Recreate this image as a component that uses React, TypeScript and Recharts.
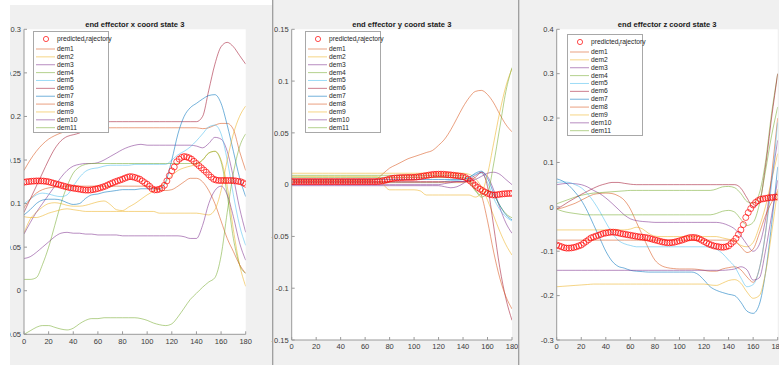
import { CartesianGrid, Line, LineChart, XAxis, YAxis } from "recharts";

// time samples (demos every 5, predicted trajectory every 2)
const T5 = [
  0, 5, 10, 15, 20, 25, 30, 35, 40, 45, 50, 55, 60, 65, 70, 75, 80, 85, 90, 95,
  100, 105, 110, 115, 120, 125, 130, 135, 140, 145, 150, 155, 160, 165, 170, 175, 180,
];
const T2 = [
  0, 2, 4, 6, 8, 10, 12, 14, 16, 18, 20, 22, 24, 26, 28, 30, 32, 34, 36, 38,
  40, 42, 44, 46, 48, 50, 52, 54, 56, 58, 60, 62, 64, 66, 68, 70, 72, 74, 76, 78,
  80, 82, 84, 86, 88, 90, 92, 94, 96, 98, 100, 102, 104, 106, 108, 110, 112, 114, 116, 118,
  120, 122, 124, 126, 128, 130, 132, 134, 136, 138, 140, 142, 144, 146, 148, 150, 152, 154, 156, 158,
  160, 162, 164, 166, 168, 170, 172, 174, 176, 178, 180,
];
const X_TICKS = [0, 20, 40, 60, 80, 100, 120, 140, 160, 180];

const DEM_NAMES = ["dem1", "dem2", "dem3", "dem4", "dem5", "dem6", "dem7", "dem8", "dem9", "dem10", "dem11"];
const DEM_COLORS = [
  "#D95319", "#EDB120", "#7E2F8E", "#77AC30", "#4DBEEE", "#A2142F",
  "#0072BD", "#D95319", "#EDB120", "#7E2F8E", "#77AC30",
];

// ---- x coord ----
const X_PRED = [
  0.1245, 0.125, 0.1253, 0.1256, 0.1258, 0.126, 0.126, 0.126, 0.1258, 0.1255,
  0.125, 0.1242, 0.1234, 0.1226, 0.1218, 0.121, 0.1202, 0.1194, 0.1187, 0.1181,
  0.1177, 0.1172, 0.1168, 0.1163, 0.1158, 0.1155, 0.1154, 0.1156, 0.116, 0.1166,
  0.1173, 0.1181, 0.119, 0.12, 0.1213, 0.1226, 0.1238, 0.125, 0.126, 0.127,
  0.128, 0.1292, 0.1303, 0.131, 0.1307, 0.13, 0.129, 0.128, 0.126, 0.124,
  0.1222, 0.1198, 0.117, 0.1157, 0.1158, 0.1165, 0.1178, 0.121, 0.126, 0.132,
  0.1375, 0.142, 0.148, 0.151, 0.153, 0.154, 0.1535, 0.1525, 0.151, 0.1485,
  0.146, 0.1435, 0.141, 0.1385, 0.136, 0.133, 0.1303, 0.128, 0.127, 0.1265,
  0.1265, 0.1265, 0.1265, 0.1265, 0.1265, 0.1263, 0.126, 0.1255, 0.125, 0.1238,
  0.1222,
];
const X_DEM1 = [
  0.138, 0.15, 0.16, 0.168, 0.174, 0.178, 0.181, 0.183, 0.185, 0.186,
  0.187, 0.187, 0.187, 0.187, 0.187, 0.187, 0.187, 0.187, 0.187, 0.187,
  0.187, 0.187, 0.187, 0.187, 0.187, 0.187, 0.187, 0.187, 0.187, 0.186,
  0.187, 0.19, 0.192, 0.192, 0.185, 0.16, 0.138,
];
const X_DEM2 = [
  0.066, 0.082, 0.09, 0.096, 0.1, 0.101, 0.1, 0.098, 0.097, 0.097,
  0.098, 0.1, 0.102, 0.103, 0.099, 0.093, 0.092, 0.096, 0.1, 0.105,
  0.11, 0.114, 0.118, 0.125, 0.132, 0.138, 0.141, 0.143, 0.145, 0.15,
  0.158, 0.16, 0.15, 0.12, 0.07, 0.03, 0.005,
];
const X_DEM3 = [
  0.065, 0.078, 0.09, 0.1, 0.11, 0.12, 0.13, 0.138, 0.143, 0.145,
  0.146, 0.146, 0.147, 0.15, 0.154, 0.158, 0.162, 0.165, 0.167, 0.168,
  0.167, 0.167, 0.167, 0.167, 0.167, 0.167, 0.167, 0.167, 0.166, 0.164,
  0.169, 0.176, 0.174, 0.16, 0.13, 0.095, 0.067,
];
const X_DEM4 = [
  0.013, 0.013, 0.015, 0.03, 0.05, 0.075, 0.1, 0.12, 0.135, 0.142,
  0.145, 0.146, 0.146, 0.146, 0.146, 0.146, 0.146, 0.146, 0.146, 0.146,
  0.146, 0.146, 0.146, 0.146, 0.146, 0.146, 0.146, 0.146, 0.146, 0.15,
  0.158, 0.16, 0.148, 0.11, 0.06, 0.03, 0.02,
];
const X_DEM5 = [
  0.1, 0.105, 0.11, 0.112, 0.111, 0.109, 0.108, 0.11, 0.12, 0.13,
  0.137, 0.14, 0.141, 0.143, 0.144, 0.144, 0.144, 0.144, 0.145, 0.145,
  0.145, 0.145, 0.145, 0.145, 0.15, 0.156, 0.16, 0.165, 0.172, 0.18,
  0.188, 0.19, 0.18, 0.15, 0.11, 0.075, 0.052,
];
const X_DEM6 = [
  0.09, 0.105, 0.12, 0.135, 0.15, 0.163, 0.172, 0.177, 0.179, 0.181,
  0.185, 0.19, 0.193, 0.194, 0.194, 0.194, 0.194, 0.194, 0.194, 0.194,
  0.194, 0.194, 0.194, 0.194, 0.194, 0.194, 0.194, 0.194, 0.194, 0.2,
  0.23, 0.26, 0.28, 0.285, 0.28, 0.27, 0.26,
];
const X_DEM7 = [
  0.087, 0.093, 0.1, 0.104, 0.105, 0.105, 0.104, 0.101, 0.099, 0.1,
  0.106, 0.11, 0.111, 0.113, 0.114, 0.115, 0.116, 0.116, 0.116, 0.117,
  0.117, 0.117, 0.117, 0.125, 0.15, 0.18, 0.2, 0.21, 0.215, 0.22,
  0.224, 0.225, 0.215, 0.19, 0.16, 0.13, 0.108,
];
const X_DEM8 = [
  0.095, 0.105, 0.112, 0.116, 0.118, 0.119, 0.12, 0.12, 0.12, 0.12,
  0.12, 0.12, 0.12, 0.12, 0.12, 0.12, 0.12, 0.12, 0.12, 0.12,
  0.12, 0.118, 0.116, 0.115, 0.116, 0.12, 0.125, 0.129, 0.129, 0.125,
  0.115, 0.1, 0.08, 0.06, 0.045, 0.03, 0.02,
];
const X_DEM9 = [
  0.085, 0.084, 0.084, 0.086, 0.089, 0.091, 0.093, 0.094, 0.093, 0.092,
  0.091, 0.091, 0.091, 0.091, 0.091, 0.091, 0.091, 0.091, 0.091, 0.091,
  0.091, 0.091, 0.089, 0.089, 0.089, 0.089, 0.089, 0.089, 0.089, 0.088,
  0.087, 0.093, 0.115, 0.15, 0.18, 0.2, 0.212,
];
const X_DEM10 = [
  0.037, 0.039, 0.044, 0.05, 0.056, 0.062, 0.066, 0.067, 0.066, 0.066,
  0.065, 0.065, 0.064, 0.064, 0.064, 0.064, 0.063, 0.063, 0.063, 0.063,
  0.063, 0.063, 0.063, 0.063, 0.063, 0.063, 0.062, 0.06, 0.06, 0.075,
  0.1, 0.115, 0.12, 0.11, 0.085, 0.055, 0.035,
];
const X_DEM11 = [
  -0.05, -0.046, -0.042, -0.04, -0.04, -0.042, -0.044, -0.045, -0.043, -0.038,
  -0.034, -0.032, -0.032, -0.031, -0.031, -0.031, -0.031, -0.031, -0.031, -0.032,
  -0.034, -0.037, -0.039, -0.04, -0.038, -0.03, -0.02, -0.01, -0.003, 0.004,
  0.01, 0.015, 0.04, 0.09, 0.135, 0.165, 0.18,
];

// ---- y coord ----
const Y_PRED = [
  0.003, 0.003, 0.003, 0.003, 0.003, 0.003, 0.003, 0.003, 0.003, 0.003,
  0.003, 0.003, 0.003, 0.003, 0.003, 0.003, 0.003, 0.003, 0.003, 0.003,
  0.003, 0.003, 0.003, 0.003, 0.003, 0.003, 0.003, 0.003, 0.003, 0.003,
  0.003, 0.003, 0.003, 0.003, 0.003, 0.003, 0.0032, 0.0036, 0.004, 0.0047,
  0.0055, 0.006, 0.0063, 0.0065, 0.0067, 0.0068, 0.0069, 0.007, 0.007, 0.007,
  0.0071, 0.0073, 0.0076, 0.008, 0.0084, 0.0088, 0.0092, 0.0096, 0.0099, 0.01,
  0.0101, 0.0101, 0.01, 0.0098, 0.0096, 0.0094, 0.0091, 0.0088, 0.0085, 0.0081,
  0.0077, 0.0068, 0.0053, 0.0034, 0.0013, -0.0008, -0.0027, -0.0044, -0.0058, -0.0072,
  -0.0084, -0.0093, -0.0099, -0.01, -0.0097, -0.0093, -0.009, -0.0088, -0.0086, -0.0085,
  -0.0084,
];
const Y_DEM1 = [
  0.004, 0.004, 0.004, 0.004, 0.004, 0.004, 0.004, 0.004, 0.004, 0.004,
  0.004, 0.004, 0.004, 0.004, 0.006, 0.011, 0.016, 0.019, 0.022, 0.025,
  0.027, 0.029, 0.031, 0.033, 0.038, 0.044, 0.053, 0.064, 0.075, 0.084,
  0.09, 0.091, 0.087, 0.079, 0.068, 0.058, 0.051,
];
const Y_DEM2 = [
  0.011, 0.011, 0.011, 0.011, 0.011, 0.011, 0.011, 0.011, 0.011, 0.011,
  0.011, 0.011, 0.011, 0.011, 0.011, 0.011, 0.011, 0.011, 0.011, 0.011,
  0.011, 0.011, 0.011, 0.011, 0.011, 0.011, 0.011, 0.011, 0.011, 0.01,
  0.006, -0.002, -0.015, -0.03, -0.045, -0.058, -0.068,
];
const Y_DEM3 = [
  -0.001, -0.001, -0.001, -0.001, -0.001, -0.001, -0.001, -0.001, -0.001, -0.001,
  -0.001, -0.001, -0.001, -0.001, -0.001, -0.001, -0.001, -0.001, -0.001, -0.001,
  -0.001, -0.001, -0.001, -0.001, -0.001, -0.002, -0.003, -0.002, 0.001, 0.005,
  0.009, 0.012, 0.008, -0.005, -0.022, -0.037, -0.047,
];
const Y_DEM4 = [
  0.007, 0.007, 0.007, 0.007, 0.007, 0.007, 0.007, 0.007, 0.007, 0.007,
  0.007, 0.007, 0.007, 0.007, 0.007, 0.007, 0.007, 0.007, 0.007, 0.007,
  0.007, 0.007, 0.007, 0.007, 0.007, 0.007, 0.007, 0.007, 0.007, 0.003,
  -0.006, -0.01, -0.006, -0.01, -0.02, -0.028, -0.032,
];
const Y_DEM5 = [
  0.002, 0.002, 0.002, 0.002, 0.002, 0.002, 0.002, 0.002, 0.002, 0.002,
  0.002, 0.002, 0.002, 0.002, 0.002, 0.002, 0.002, 0.002, 0.002, 0.002,
  0.002, 0.002, 0.002, 0.002, 0.002, 0.003, 0.004, 0.004, 0.005, 0.007,
  0.01, 0.011, 0.002, -0.013, -0.024, -0.031, -0.035,
];
const Y_DEM6 = [
  0.003, 0.003, 0.003, 0.003, 0.003, 0.003, 0.003, 0.003, 0.003, 0.003,
  0.003, 0.003, 0.003, 0.003, 0.003, 0.003, 0.003, 0.003, 0.003, 0.003,
  0.003, 0.003, 0.003, 0.003, 0.003, 0.003, 0.003, 0.003, 0.003, 0.004,
  0.007, 0.012, -0.002, -0.04, -0.08, -0.11, -0.131,
];
const Y_DEM7 = [
  0.005, 0.005, 0.005, 0.005, 0.005, 0.005, 0.005, 0.005, 0.005, 0.005,
  0.005, 0.005, 0.005, 0.005, 0.005, 0.005, 0.005, 0.005, 0.005, 0.005,
  0.005, 0.005, 0.005, 0.005, 0.005, 0.005, 0.005, 0.005, 0.005, 0.007,
  0.011, 0.013, 0.006, -0.008, -0.02, -0.029, -0.034,
];
const Y_DEM8 = [
  0.002, 0.002, 0.002, 0.002, 0.002, 0.002, 0.002, 0.002, 0.002, 0.002,
  0.002, 0.002, 0.002, 0.002, 0.002, 0.002, 0.002, 0.002, 0.002, 0.002,
  0.002, 0.002, 0.002, 0.002, 0.002, 0.002, 0.002, 0.002, 0.002, 0.003,
  0.001, -0.01, -0.035, -0.065, -0.09, -0.108, -0.12,
];
const Y_DEM9 = [
  0.008, 0.008, 0.008, 0.008, 0.008, 0.008, 0.008, 0.008, 0.008, 0.008,
  0.008, 0.008, 0.008, 0.008, 0.008, 0.0, -0.005, -0.005, -0.005, -0.005,
  -0.005, -0.006, -0.01, -0.01, -0.01, -0.01, -0.01, -0.01, -0.01, -0.01,
  -0.012, -0.008, 0.01, 0.04, 0.07, 0.095, 0.112,
];
const Y_DEM10 = [
  0, 0, 0, 0, 0, 0, 0, 0, 0, 0,
  0, 0, 0, 0, 0, 0, 0, 0, 0, 0,
  0, 0, 0, 0, 0, 0.001, 0.002, 0.003, 0.003, 0.004,
  0.005, 0.008, 0.011, 0.012, 0.01, 0.005, 0,
];
const Y_DEM11 = [
  0.009, 0.009, 0.009, 0.009, 0.009, 0.009, 0.009, 0.009, 0.009, 0.009,
  0.009, 0.009, 0.009, 0.009, 0.009, 0.009, 0.009, 0.009, 0.009, 0.009,
  0.009, 0.009, 0.009, 0.009, 0.009, 0.009, 0.009, 0.009, 0.009, 0.005,
  -0.005, -0.012, -0.008, 0.02, 0.055, 0.09, 0.113,
];

// ---- z coord ----
const Z_PRED = [
  -0.086, -0.088, -0.09, -0.092, -0.093, -0.093, -0.0925, -0.0915, -0.09, -0.088,
  -0.086, -0.082, -0.078, -0.074, -0.07, -0.068, -0.066, -0.064, -0.062, -0.06,
  -0.059, -0.058, -0.057, -0.057, -0.0575, -0.0585, -0.06, -0.061, -0.062, -0.063,
  -0.064, -0.065, -0.066, -0.067, -0.0678, -0.0685, -0.069, -0.07, -0.0715, -0.073,
  -0.0745, -0.076, -0.0775, -0.079, -0.08, -0.081, -0.081, -0.0805, -0.0795, -0.078,
  -0.0765, -0.075, -0.073, -0.071, -0.0695, -0.069, -0.069, -0.07, -0.072, -0.075,
  -0.078, -0.081, -0.084, -0.086, -0.088, -0.089, -0.09, -0.091, -0.091, -0.09,
  -0.088, -0.083, -0.078, -0.071, -0.062, -0.052, -0.04, -0.024, -0.013, -0.004,
  0.004, 0.01, 0.014, 0.017, 0.018, 0.019, 0.02, 0.021, 0.021, 0.022,
  0.022,
];
const Z_DEM1 = [
  -0.005, -0.002, 0.003, 0.008, 0.015, 0.022, 0.028, 0.03, 0.031, 0.03,
  0.025, 0.015, -0.005, -0.035, -0.065, -0.095, -0.12, -0.132, -0.137, -0.139,
  -0.14, -0.14, -0.14, -0.141, -0.143, -0.145, -0.145, -0.14, -0.137, -0.135,
  -0.142, -0.158, -0.17, -0.14, -0.06, 0.07, 0.2,
];
const Z_DEM2 = [
  -0.052, -0.052, -0.052, -0.052, -0.052, -0.052, -0.052, -0.052, -0.052, -0.052,
  -0.052, -0.052, -0.05, -0.046, -0.05, -0.06, -0.066, -0.067, -0.067, -0.067,
  -0.067, -0.067, -0.067, -0.067, -0.067, -0.067, -0.067, -0.07, -0.073, -0.076,
  -0.087, -0.09, -0.08, -0.045, 0, 0.06, 0.12,
];
const Z_DEM3 = [
  0.05, 0.052, 0.053, 0.052, 0.05, 0.045, 0.037, 0.03, 0.02, 0.008,
  -0.005, -0.018, -0.027, -0.031, -0.033, -0.034, -0.035, -0.035, -0.035, -0.035,
  -0.035, -0.035, -0.035, -0.035, -0.035, -0.035, -0.035, -0.037, -0.042, -0.05,
  -0.065, -0.085, -0.1, -0.085, -0.03, 0.06, 0.15,
];
const Z_DEM4 = [
  0.007, 0.012, 0.017, 0.022, 0.026, 0.029, 0.031, 0.032, 0.033, 0.034,
  0.035, 0.036, 0.037, 0.037, 0.037, 0.037, 0.037, 0.037, 0.037, 0.037,
  0.037, 0.037, 0.037, 0.037, 0.037, 0.037, 0.04, 0.045, 0.046, 0.043,
  0.03, 0.012, 0.008, 0.03, 0.1, 0.21, 0.3,
];
const Z_DEM5 = [
  0.055, 0.056, 0.055, 0.05, 0.043, 0.03, 0.012, -0.01, -0.035, -0.058,
  -0.075, -0.083, -0.087, -0.09, -0.09, -0.09, -0.09, -0.09, -0.09, -0.09,
  -0.09, -0.09, -0.09, -0.09, -0.09, -0.09, -0.095, -0.105, -0.12, -0.135,
  -0.16, -0.18, -0.175, -0.14, -0.06, 0.05, 0.19,
];
const Z_DEM6 = [
  -0.005, 0.003, 0.012, 0.02, 0.028, 0.035, 0.042, 0.048, 0.052, 0.055,
  0.055, 0.053, 0.051, 0.05, 0.05, 0.05, 0.05, 0.05, 0.05, 0.05,
  0.05, 0.05, 0.05, 0.05, 0.05, 0.05, 0.05, 0.05, 0.05, 0.05,
  0.042, 0.02, 0, 0.01, 0.09, 0.2, 0.3,
];
const Z_DEM7 = [
  0.063, 0.058, 0.048, 0.033, 0.015, -0.01, -0.04, -0.07, -0.1, -0.122,
  -0.134, -0.138, -0.143, -0.145, -0.146, -0.147, -0.147, -0.147, -0.147, -0.147,
  -0.147, -0.147, -0.147, -0.152, -0.165, -0.18, -0.188, -0.193, -0.197, -0.2,
  -0.215, -0.235, -0.24, -0.22, -0.15, -0.04, 0.09,
];
const Z_DEM8 = [
  -0.075, -0.075, -0.075, -0.075, -0.075, -0.075, -0.075, -0.075, -0.075, -0.075,
  -0.075, -0.075, -0.075, -0.075, -0.075, -0.075, -0.075, -0.075, -0.075, -0.075,
  -0.075, -0.075, -0.075, -0.075, -0.075, -0.075, -0.075, -0.075, -0.075, -0.078,
  -0.09, -0.103, -0.095, -0.06, -0.02, 0.01, 0.035,
];
const Z_DEM9 = [
  -0.18, -0.179, -0.178, -0.177, -0.176, -0.175, -0.174, -0.174, -0.174, -0.174,
  -0.174, -0.174, -0.174, -0.174, -0.174, -0.174, -0.174, -0.174, -0.174, -0.174,
  -0.174, -0.174, -0.174, -0.174, -0.174, -0.176, -0.177, -0.172, -0.166, -0.164,
  -0.172, -0.192, -0.206, -0.2, -0.15, -0.06, 0.04,
];
const Z_DEM10 = [
  -0.143, -0.143, -0.143, -0.143, -0.143, -0.143, -0.143, -0.143, -0.143, -0.143,
  -0.143, -0.143, -0.143, -0.143, -0.143, -0.143, -0.143, -0.143, -0.143, -0.143,
  -0.143, -0.143, -0.143, -0.143, -0.143, -0.143, -0.143, -0.143, -0.142, -0.14,
  -0.135, -0.142, -0.165, -0.16, -0.1, -0.02, 0.06,
];
const Z_DEM11 = [
  -0.005, -0.01, -0.013, -0.015, -0.017, -0.018, -0.018, -0.018, -0.018, -0.018,
  -0.018, -0.018, -0.018, -0.018, -0.018, -0.018, -0.018, -0.018, -0.018, -0.018,
  -0.018, -0.018, -0.018, -0.018, -0.018, -0.018, -0.015, -0.01, -0.008, -0.012,
  -0.028, -0.042, -0.035, 0.005, 0.08, 0.16, 0.225,
];

const FONT = "'Liberation Sans', Arial, Helvetica, sans-serif";
const CHART_W = 790;
const CHART_H = 365;
const Y_AXIS_W = 30;
const X_AXIS_H = 20;

function demoRows(series: number[][]) {
  return T5.map((t, i) => {
    const row: Record<string, number> = { t };
    series.forEach((s, k) => {
      row[DEM_NAMES[k]] = s[i];
    });
    return row;
  });
}

function predRows(values: number[]) {
  return T2.map((t, i) => ({ t, pred: values[i] }));
}

interface PanelProps {
  title: string;
  plotLeft: number;
  plotRight: number;
  plotTop: number;
  plotBottom: number;
  yDomain: [number, number];
  yTicks: number[];
  demos: number[][];
  pred: number[];
  legendLeft: number;
  legendTop: number;
}

function Legend({ left, top }: { left: number; top: number }) {
  return (
    <div
      style={{
        position: "absolute",
        left,
        top,
        width: 76,
        height: 102,
        boxSizing: "border-box",
        border: "1px solid #a8a8a8",
        background: "#fff",
        fontFamily: FONT,
        fontSize: 6.7,
        color: "#262626",
      }}
    >
      <svg width={76} height={102} style={{ position: "absolute", left: -1, top: -1 }}>
        <circle cx={13} cy={8} r={2.6} fill="none" stroke="#ff0000" strokeWidth={0.7} />
        {DEM_NAMES.map((name, k) => (
          <line
            key={name}
            x1={3}
            x2={22}
            y1={18 + k * 7.87}
            y2={18 + k * 7.87}
            stroke={DEM_COLORS[k]}
            strokeOpacity={0.55}
            strokeWidth={1}
          />
        ))}
      </svg>
      <div style={{ position: "absolute", left: 23, top: 3, lineHeight: "8px", whiteSpace: "nowrap" }}>
        predicted
        <span style={{ fontSize: 5, position: "relative", top: 2 }}>t</span>
        rajectory
      </div>
      {DEM_NAMES.map((name, k) => (
        <div
          key={name}
          style={{
            position: "absolute",
            left: 23,
            top: 13 + k * 7.87,
            lineHeight: "8px",
            whiteSpace: "nowrap",
          }}
        >
          {name}
        </div>
      ))}
    </div>
  );
}

function Panel(p: PanelProps) {
  const margin = {
    top: p.plotTop,
    right: CHART_W - p.plotRight,
    bottom: CHART_H - p.plotBottom - X_AXIS_H,
    left: p.plotLeft - Y_AXIS_W,
  };
  const tickStyle = { fontSize: 7.5, fill: "#3a3a3a", fontFamily: FONT };
  const centre = (p.plotLeft + p.plotRight) / 2;
  return (
    <div style={{ position: "absolute", left: 0, top: 0, width: CHART_W, height: CHART_H }}>
      <LineChart width={CHART_W} height={CHART_H} data={demoRows(p.demos)} margin={margin}>
        <CartesianGrid horizontal={false} vertical={false} fill="#ffffff" />
        <XAxis
          dataKey="t"
          type="number"
          domain={[0, 180]}
          ticks={X_TICKS}
          interval={0}
          allowDataOverflow
          height={X_AXIS_H}
          tickSize={-3}
          tickMargin={7}
          tick={tickStyle}
          stroke="#9a9a9a"
        />
        <XAxis
          xAxisId="top"
          dataKey="t"
          type="number"
          orientation="top"
          domain={[0, 180]}
          ticks={X_TICKS}
          interval={0}
          height={0}
          mirror
          tick={false}
          tickSize={3}
          stroke="#9a9a9a"
        />
        <YAxis
          type="number"
          domain={p.yDomain}
          ticks={p.yTicks}
          interval={0}
          allowDataOverflow
          width={Y_AXIS_W}
          tickSize={-3}
          tickMargin={6}
          tick={tickStyle}
          stroke="#9a9a9a"
        />
        <YAxis
          yAxisId="right"
          type="number"
          orientation="right"
          domain={p.yDomain}
          ticks={p.yTicks}
          interval={0}
          width={0}
          mirror
          tick={false}
          tickSize={3}
          stroke="#9a9a9a"
        />
        <Line
          data={predRows(p.pred)}
          dataKey="pred"
          stroke="none"
          dot={{ r: 3, fill: "none", stroke: "#ff0000", strokeWidth: 0.8, strokeOpacity: 0.85 }}
          activeDot={false}
          isAnimationActive={false}
        />
        {DEM_NAMES.map((name, k) => (
          <Line
            key={name}
            type="monotone"
            dataKey={name}
            stroke={DEM_COLORS[k]}
            strokeOpacity={0.55}
            strokeWidth={1}
            dot={false}
            activeDot={false}
            isAnimationActive={false}
          />
        ))}
      </LineChart>
      <div
        style={{
          position: "absolute",
          left: centre - 100,
          width: 200,
          top: 19.5,
          lineHeight: "9px",
          textAlign: "center",
          fontFamily: FONT,
          fontWeight: "bold",
          fontSize: 7.6,
          color: "#1a1a1a",
          whiteSpace: "nowrap",
        }}
      >
        {p.title}
      </div>
      <Legend left={p.legendLeft} top={p.legendTop} />
    </div>
  );
}

export default function App() {
  return (
    <div
      style={{
        position: "fixed",
        left: 0,
        top: 0,
        width: 779,
        height: 365,
        overflow: "hidden",
        background: "#f0f0f0",
      }}
    >
      <Panel
        title="end effector x coord state 3"
        plotLeft={24}
        plotRight={245.7}
        plotTop={29.3}
        plotBottom={334.3}
        yDomain={[-0.05, 0.3]}
        yTicks={[-0.05, 0, 0.05, 0.1, 0.15, 0.2, 0.25, 0.3]}
        demos={[X_DEM1, X_DEM2, X_DEM3, X_DEM4, X_DEM5, X_DEM6, X_DEM7, X_DEM8, X_DEM9, X_DEM10, X_DEM11]}
        pred={X_PRED}
        legendLeft={33}
        legendTop={31}
      />
      <Panel
        title="end effector y coord state 3"
        plotLeft={291.7}
        plotRight={512}
        plotTop={29.3}
        plotBottom={340}
        yDomain={[-0.15, 0.15]}
        yTicks={[-0.15, -0.1, -0.05, 0, 0.05, 0.1, 0.15]}
        demos={[Y_DEM1, Y_DEM2, Y_DEM3, Y_DEM4, Y_DEM5, Y_DEM6, Y_DEM7, Y_DEM8, Y_DEM9, Y_DEM10, Y_DEM11]}
        pred={Y_PRED}
        legendLeft={305}
        legendTop={31}
      />
      <Panel
        title="end effector z coord state 3"
        plotLeft={556.7}
        plotRight={777.7}
        plotTop={29.3}
        plotBottom={340}
        yDomain={[-0.3, 0.4]}
        yTicks={[-0.3, -0.2, -0.1, 0, 0.1, 0.2, 0.3, 0.4]}
        demos={[Z_DEM1, Z_DEM2, Z_DEM3, Z_DEM4, Z_DEM5, Z_DEM6, Z_DEM7, Z_DEM8, Z_DEM9, Z_DEM10, Z_DEM11]}
        pred={Z_PRED}
        legendLeft={567}
        legendTop={34}
      />
      {/* window edges and separators */}
      <div style={{ position: "absolute", left: 0, top: 0, width: 272, height: 5, background: "#fff" }} />
      <div style={{ position: "absolute", left: 0, top: 0, width: 10, height: 365, background: "#fff" }} />
      <div style={{ position: "absolute", left: 272, top: 0, width: 1, height: 365, background: "#a0a0a0" }} />
      <div style={{ position: "absolute", left: 273, top: 0, width: 1, height: 365, background: "#d4d4d4" }} />
      <div style={{ position: "absolute", left: 518, top: 0, width: 1, height: 365, background: "#a0a0a0" }} />
      <div style={{ position: "absolute", left: 519, top: 0, width: 1, height: 365, background: "#d4d4d4" }} />
    </div>
  );
}
